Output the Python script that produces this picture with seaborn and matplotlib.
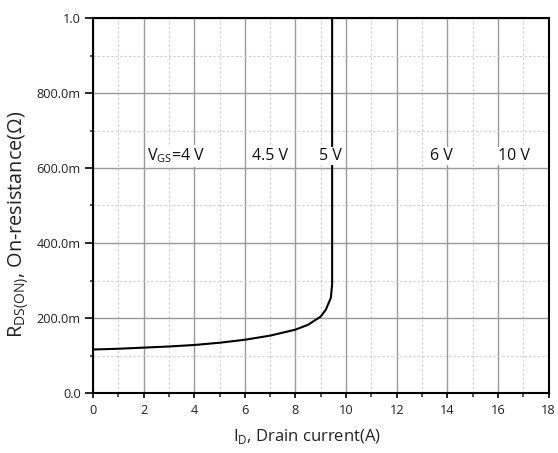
import matplotlib
matplotlib.use("Agg")
import matplotlib.pyplot as plt
import seaborn as sns
import pandas as pd
from matplotlib.ticker import MultipleLocator, FixedLocator

drain_current = [0, 1, 2, 3, 4, 5, 6, 7, 8, 8.5, 9, 9.2, 9.4, 9.45, 9.45]
on_resistance = [0.116, 0.118, 0.121, 0.124, 0.128, 0.134, 0.142, 0.153, 0.169,
                 0.182, 0.204, 0.222, 0.254, 0.29, 1.0]

vgs_labels = ["V$_\\mathregular{GS}$=4 V", "4.5 V", "5 V", "6 V", "10 V"]
vgs_label_x = [2.15, 6.3, 8.95, 13.3, 16.0]
vgs_label_y = 0.632

y_ticks = [0.0, 0.2, 0.4, 0.6, 0.8, 1.0]
y_ticklabels = ["0.0", "200.0m", "400.0m", "600.0m", "800.0m", "1.0"]
x_ticks = [0, 2, 4, 6, 8, 10, 12, 14, 16, 18]

sns.set_theme(style="white")
plt.rcParams["font.family"] = ["Open Sans", "DejaVu Sans"]
plt.rcParams["mathtext.fontset"] = "custom"
plt.rcParams["mathtext.rm"] = "Open Sans"

fig = plt.figure(figsize=(5.58, 4.53), dpi=100)
ax = fig.add_axes([93/558, 1 - 393/453, (548.5-93)/558, (393-18)/453])

df = pd.DataFrame({"x": drain_current, "y": on_resistance})
sns.lineplot(data=df, x="x", y="y", sort=False, estimator=None, color="black",
             linewidth=1.5, ax=ax, zorder=3)

ax.set_xlim(0, 18)
ax.set_ylim(0, 1.0)
ax.xaxis.set_major_locator(FixedLocator(x_ticks))
ax.xaxis.set_minor_locator(MultipleLocator(1))
ax.yaxis.set_major_locator(FixedLocator(y_ticks))
ax.yaxis.set_minor_locator(MultipleLocator(0.1))
ax.set_yticklabels(y_ticklabels)

ax.grid(which="major", color="#999999", linewidth=1.0, linestyle="-")
ax.grid(which="minor", color="#cccccc", linewidth=0.8, linestyle=(0, (2, 2)))
ax.set_axisbelow(True)

for s in ax.spines.values():
    s.set_color("black")
    s.set_linewidth(1.5)

ax.tick_params(which="major", direction="out", width=1.2, color="black",
               labelsize=9.2, labelcolor="#222222", bottom=True, left=True, top=False, right=False)
ax.tick_params(axis="y", which="major", length=5.8, pad=2.9)
ax.tick_params(axis="x", which="major", length=3.4, pad=4.5)
ax.tick_params(axis="x", which="minor", direction="out", length=2.6, width=1.1, bottom=True, top=False)
ax.tick_params(axis="y", which="minor", direction="out", length=2.3, width=1.1, left=True, right=False)

ax.set_xlabel("I$_\\mathregular{D}$, Drain current(A)", fontsize=12, color="#222222")
ax.xaxis.set_label_coords(0.469, -0.092)
ax.set_ylabel("R$_\\mathregular{DS(ON)}$, On-resistance(Ω)", fontsize=14.3, color="#222222")
ax.yaxis.set_label_coords(-0.136, 0.45)

for lbl, xv in zip(vgs_labels, vgs_label_x):
    ax.text(xv, vgs_label_y, lbl, fontsize=11.5, color="#111111", ha="left", va="center", zorder=5,
            bbox=dict(facecolor="white", edgecolor="none", pad=1.0))

fig.savefig("out.png", dpi=100)
